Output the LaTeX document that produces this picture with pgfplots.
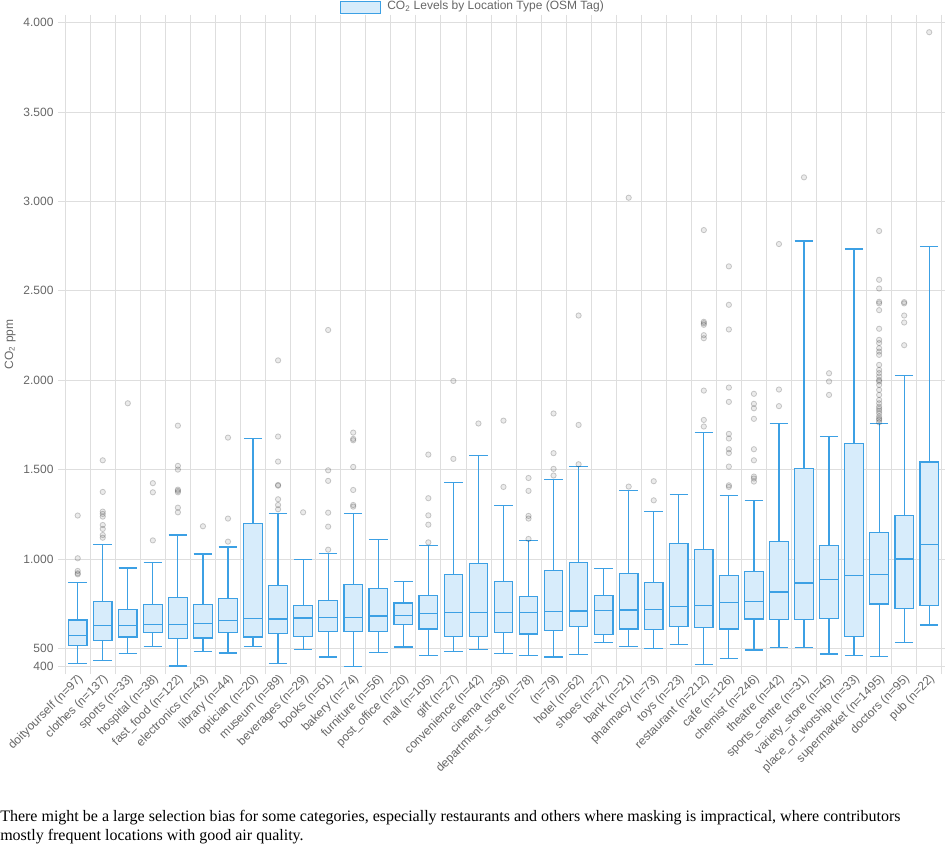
\documentclass[border=0pt]{standalone}
\usepackage{fontspec}
\setmainfont{Liberation Serif}
\setsansfont{Liberation Sans}
\usepackage{pgfplots}
\pgfplotsset{compat=1.18}
\usepgfplotslibrary{statistics}
\definecolor{boxblue}{RGB}{60,160,228}
\definecolor{boxfill}{RGB}{215,236,251}
\definecolor{txtgray}{RGB}{102,102,102}
\definecolor{gridgray}{RGB}{222,222,222}
\pgfplotsset{
  bp/.style={draw=boxblue, fill=boxfill, line width=0.9pt, solid,
    mark=*, mark size=2pt,
    mark options={draw=black, draw opacity=0.2, fill=black, fill opacity=0.08, line width=0.6pt},
    boxplot/box extend=0.74, boxplot/whisker extend=0.74},
}
\begin{document}
\begin{tikzpicture}
\useasboundingbox (0,0) rectangle (708.75pt,-645.75pt);
% legend
\draw[draw=boxblue, fill=boxfill, line width=0.75pt] (255pt,-0.9pt) rectangle (285pt,-9.75pt);
\node[anchor=west, inner sep=0pt, text=txtgray, font=\sffamily\fontsize{9}{11}\selectfont] at (290.25pt,-4.9pt) {CO\textsubscript{2} Levels by Location Type (OSM Tag)};
\begin{axis}[
  at={(48.9pt,-499.65pt)}, anchor=south west,
  scale only axis, width=657.4pt, height=482.6pt,
  xmin=-0.5, xmax=34.5, ymin=400, ymax=4000,
  boxplot/draw direction=y,
  axis line style={draw=gridgray},
  tick align=outside,
  ytick={400,500,1000,1500,2000,2500,3000,3500,4000},
  yticklabel style={/pgf/number format/.cd, 1000 sep={.}, assume math mode=true},
  ymajorgrids, grid style={draw=gridgray, line width=0.6pt},
  major tick length=5.25pt, minor tick length=6pt,
  ytick style={draw=gridgray, line width=0.6pt},
  xtick={0,...,34},
  minor xtick={-0.5,0.5,...,34.5},
  xminorgrids,
  major x tick style={draw=none},
  minor x tick style={draw=gridgray, line width=0.6pt},
  tick label style={font=\sffamily\fontsize{9}{11}\selectfont, text=txtgray},
  x tick label style={rotate=45, anchor=east, inner sep=1pt, yshift=-4pt, xshift=1pt},
  xticklabels={doityourself (n=97), clothes (n=137), sports (n=33), hospital (n=38), fast\_food (n=122), electronics (n=43), library (n=44), optician (n=20), museum (n=89), beverages (n=29), books (n=61), bakery (n=74), furniture (n=56), post\_office (n=20), mall (n=105), gift (n=27), convenience (n=42), cinema (n=38), department\_store (n=78), {\ (n=79)}, hotel (n=62), shoes (n=27), bank (n=21), pharmacy (n=73), toys (n=23), restaurant (n=212), cafe (n=126), chemist (n=246), theatre (n=42), sports\_centre (n=31), variety\_store (n=45), place\_of\_worship (n=33), supermarket (n=1495), doctors (n=95), pub (n=22)},
  ylabel={CO\textsubscript{2} ppm},
  every axis y label/.style={at={(axis description cs:-0.0628,0.5)}, anchor=center, rotate=90, font=\sffamily\fontsize{9}{11}\selectfont, text=txtgray},
  clip=false,
]
\addplot[bp, boxplot prepared={lower whisker=416, lower quartile=515, median=571, upper quartile=658, upper whisker=867, draw position=0}] table[row sep=\\,y index=0]{y\\1243\\1004\\933\\920\\914\\};
\addplot[bp, boxplot prepared={lower whisker=433, lower quartile=545, median=629, upper quartile=761, upper whisker=1082, draw position=1}] table[row sep=\\,y index=0]{y\\1552\\1375\\1265\\1252\\1237\\1190\\1168\\1134\\1119\\};
\addplot[bp, boxplot prepared={lower whisker=470, lower quartile=563, median=629, upper quartile=718, upper whisker=950, draw position=2}] table[row sep=\\,y index=0]{y\\1871\\};
\addplot[bp, boxplot prepared={lower whisker=509, lower quartile=589, median=634, upper quartile=746, upper whisker=979, draw position=3}] table[row sep=\\,y index=0]{y\\1424\\1373\\1104\\};
\addplot[bp, boxplot prepared={lower whisker=401, lower quartile=554, median=634, upper quartile=785, upper whisker=1134, draw position=4}] table[row sep=\\,y index=0]{y\\1746\\1521\\1500\\1388\\1381\\1373\\1287\\1261\\};
\addplot[bp, boxplot prepared={lower whisker=481, lower quartile=558, median=638, upper quartile=746, upper whisker=1028, draw position=5}] table[row sep=\\,y index=0]{y\\1183\\};
\addplot[bp, boxplot prepared={lower whisker=474, lower quartile=589, median=655, upper quartile=780, upper whisker=1067, draw position=6}] table[row sep=\\,y index=0]{y\\1679\\1226\\1097\\};
\addplot[bp, boxplot prepared={lower whisker=509, lower quartile=563, median=666, upper quartile=1200, upper whisker=1674, draw position=7}] coordinates {};
\addplot[bp, boxplot prepared={lower whisker=416, lower quartile=582, median=664, upper quartile=853, upper whisker=1256, draw position=8}] table[row sep=\\,y index=0]{y\\2111\\1685\\1545\\1414\\1410\\1334\\1302\\1278\\};
\addplot[bp, boxplot prepared={lower whisker=494, lower quartile=565, median=670, upper quartile=739, upper whisker=998, draw position=9}] table[row sep=\\,y index=0]{y\\1261\\};
\addplot[bp, boxplot prepared={lower whisker=451, lower quartile=595, median=672, upper quartile=767, upper whisker=1030, draw position=10}] table[row sep=\\,y index=0]{y\\2281\\1496\\1437\\1259\\1181\\1052\\};
\addplot[bp, boxplot prepared={lower whisker=400, lower quartile=595, median=673, upper quartile=858, upper whisker=1254, draw position=11}] table[row sep=\\,y index=0]{y\\1707\\1672\\1664\\1515\\1386\\1302\\1293\\};
\addplot[bp, boxplot prepared={lower whisker=476, lower quartile=593, median=681, upper quartile=836, upper whisker=1108, draw position=12}] coordinates {};
\addplot[bp, boxplot prepared={lower whisker=507, lower quartile=634, median=683, upper quartile=754, upper whisker=875, draw position=13}] coordinates {};
\addplot[bp, boxplot prepared={lower whisker=461, lower quartile=608, median=694, upper quartile=797, upper whisker=1077, draw position=14}] table[row sep=\\,y index=0]{y\\1584\\1340\\1244\\1192\\1093\\};
\addplot[bp, boxplot prepared={lower whisker=481, lower quartile=567, median=700, upper quartile=914, upper whisker=1429, draw position=15}] table[row sep=\\,y index=0]{y\\1996\\1560\\};
\addplot[bp, boxplot prepared={lower whisker=494, lower quartile=567, median=700, upper quartile=974, upper whisker=1577, draw position=16}] table[row sep=\\,y index=0]{y\\1758\\};
\addplot[bp, boxplot prepared={lower whisker=472, lower quartile=589, median=700, upper quartile=875, upper whisker=1300, draw position=17}] table[row sep=\\,y index=0]{y\\1774\\1403\\};
\addplot[bp, boxplot prepared={lower whisker=461, lower quartile=580, median=701, upper quartile=791, upper whisker=1104, draw position=18}] table[row sep=\\,y index=0]{y\\1453\\1381\\1241\\1226\\1112\\};
\addplot[bp, boxplot prepared={lower whisker=451, lower quartile=599, median=705, upper quartile=937, upper whisker=1446, draw position=19}] table[row sep=\\,y index=0]{y\\1814\\1592\\1504\\1467\\};
\addplot[bp, boxplot prepared={lower whisker=466, lower quartile=623, median=709, upper quartile=981, upper whisker=1519, draw position=20}] table[row sep=\\,y index=0]{y\\2362\\1750\\1530\\};
\addplot[bp, boxplot prepared={lower whisker=533, lower quartile=578, median=711, upper quartile=797, upper whisker=948, draw position=21}] coordinates {};
\addplot[bp, boxplot prepared={lower whisker=509, lower quartile=608, median=714, upper quartile=920, upper whisker=1384, draw position=22}] table[row sep=\\,y index=0]{y\\3021\\1405\\};
\addplot[bp, boxplot prepared={lower whisker=498, lower quartile=606, median=716, upper quartile=869, upper whisker=1265, draw position=23}] table[row sep=\\,y index=0]{y\\1435\\1328\\};
\addplot[bp, boxplot prepared={lower whisker=520, lower quartile=623, median=733, upper quartile=1088, upper whisker=1360, draw position=24}] coordinates {};
\addplot[bp, boxplot prepared={lower whisker=410, lower quartile=617, median=738, upper quartile=1054, upper whisker=1709, draw position=25}] table[row sep=\\,y index=0]{y\\2840\\2327\\2319\\2310\\2252\\2235\\1942\\1778\\1741\\};
\addplot[bp, boxplot prepared={lower whisker=444, lower quartile=608, median=757, upper quartile=907, upper whisker=1355, draw position=26}] table[row sep=\\,y index=0]{y\\2637\\2422\\2284\\1959\\1879\\1700\\1674\\1614\\1593\\1517\\1412\\1403\\};
\addplot[bp, boxplot prepared={lower whisker=491, lower quartile=664, median=763, upper quartile=929, upper whisker=1327, draw position=27}] table[row sep=\\,y index=0]{y\\1924\\1868\\1843\\1784\\1614\\1552\\1461\\1450\\1433\\};
\addplot[bp, boxplot prepared={lower whisker=504, lower quartile=662, median=815, upper quartile=1099, upper whisker=1756, draw position=28}] table[row sep=\\,y index=0]{y\\2762\\1948\\1855\\};
\addplot[bp, boxplot prepared={lower whisker=506, lower quartile=660, median=866, upper quartile=1506, upper whisker=2779, draw position=29}] table[row sep=\\,y index=0]{y\\3135\\};
\addplot[bp, boxplot prepared={lower whisker=468, lower quartile=668, median=884, upper quartile=1077, upper whisker=1687, draw position=30}] table[row sep=\\,y index=0]{y\\2039\\1993\\1918\\};
\addplot[bp, boxplot prepared={lower whisker=459, lower quartile=567, median=907, upper quartile=1644, upper whisker=2734, draw position=31}] coordinates {};
\addplot[bp, boxplot prepared={lower whisker=453, lower quartile=748, median=914, upper quartile=1149, upper whisker=1756, draw position=32}] table[row sep=\\,y index=0]{y\\2835\\2562\\2513\\2439\\2430\\2392\\2288\\2226\\2208\\2179\\2160\\2142\\2086\\2058\\2040\\2021\\2002\\1993\\1974\\1946\\1918\\1890\\1871\\1852\\1840\\1828\\1815\\1797\\1785\\1778\\1765\\};
\addplot[bp, boxplot prepared={lower whisker=533, lower quartile=724, median=1000, upper quartile=1244, upper whisker=2028, draw position=33}] table[row sep=\\,y index=0]{y\\2437\\2430\\2362\\2323\\2196\\};
\addplot[bp, boxplot prepared={lower whisker=631, lower quartile=739, median=1082, upper quartile=1543, upper whisker=2750, draw position=34}] table[row sep=\\,y index=0]{y\\3947\\};
\end{axis}
% caption
\node[anchor=base west, inner sep=0pt, font=\rmfamily\fontsize{12}{14}\selectfont] at (0pt,-616pt) {There might be a large selection bias for some categories, especially restaurants and others where masking is impractical, where contributors};
\node[anchor=base west, inner sep=0pt, font=\rmfamily\fontsize{12}{14}\selectfont] at (0pt,-630pt) {mostly frequent locations with good air quality.};
\end{tikzpicture}
\end{document}
